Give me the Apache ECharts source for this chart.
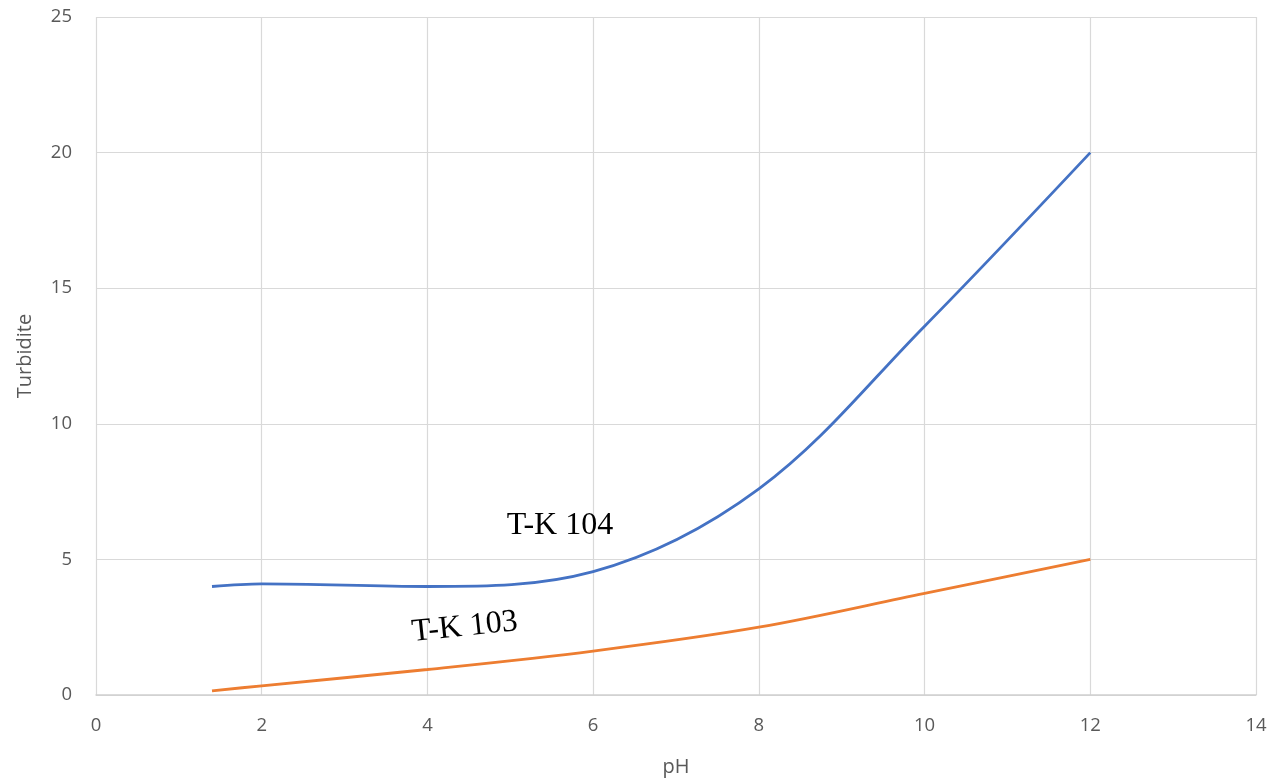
<!DOCTYPE html>
<html><head><meta charset="utf-8">
<script src="https://cdn.jsdelivr.net/npm/echarts@6/dist/echarts.min.js"></script>
<style>html,body{margin:0;padding:0;background:#fff}#c{width:1279px;height:782px}</style>
</head><body><div id="c"></div>
<script>
const phValues = [1.4, 2, 4, 6, 8, 10, 12];
const tk104 = [4.0, 4.1, 4.0, 4.55, 7.6, 13.6, 20.0];
const tk103 = [0.15, 0.34, 0.94, 1.62, 2.5, 3.75, 5.0];
const seriesNames = ['T-K 104', 'T-K 103'];
const labelAnchors = [[5.6, 6.25], [4.45, 2.5]];

const chart = echarts.init(document.getElementById('c'));
const axisFont = {color: '#595959', fontSize: 18.5, fontFamily: 'Open Sans'};
chart.setOption({
  animation: false,
  grid: {left: 96, right: 23, top: 17, bottom: 87},
  xAxis: {
    type: 'value', min: 0, max: 14, interval: 2,
    name: 'pH', nameLocation: 'middle', nameGap: 62,
    nameTextStyle: {color: '#595959', fontSize: 20, fontFamily: 'Open Sans'},
    axisLine: {show: true, lineStyle: {color: '#d0d0d0', width: 1.5}},
    axisTick: {show: false},
    axisLabel: Object.assign({margin: 21}, axisFont),
    splitLine: {show: true, lineStyle: {color: '#d9d9d9', width: 1.2}}
  },
  yAxis: {
    type: 'value', min: 0, max: 25, interval: 5,
    name: 'Turbidite', nameLocation: 'middle', nameGap: 61,
    nameTextStyle: {color: '#595959', fontSize: 20, fontFamily: 'Open Sans'},
    axisLine: {show: false},
    axisTick: {show: false},
    axisLabel: Object.assign({margin: 24}, axisFont),
    splitLine: {show: true, lineStyle: {color: '#d9d9d9', width: 1.2}}
  },
  series: [
    {name: seriesNames[0], type: 'line', smooth: 0.35, showSymbol: false,
     lineStyle: {color: '#4472C4', width: 2.8},
     data: phValues.map((x, i) => [x, tk104[i]])},
    {name: seriesNames[1], type: 'line', smooth: 0.35, showSymbol: false,
     lineStyle: {color: '#ED7D31', width: 2.8},
     data: phValues.map((x, i) => [x, tk103[i]])}
  ]
});
const p1 = chart.convertToPixel({gridIndex: 0}, labelAnchors[0]);
const p2 = chart.convertToPixel({gridIndex: 0}, labelAnchors[1]);
chart.setOption({
  graphic: [
    {type: 'text', x: p1[0], y: p1[1],
     style: {text: seriesNames[0], font: '32px "Liberation Serif"', fill: '#000', align: 'center', verticalAlign: 'middle'}},
    {type: 'text', x: p2[0], y: p2[1], rotation: 6 * Math.PI / 180,
     style: {text: seriesNames[1], font: '32px "Liberation Serif"', fill: '#000', align: 'center', verticalAlign: 'middle'}}
  ]
});
</script></body></html>
